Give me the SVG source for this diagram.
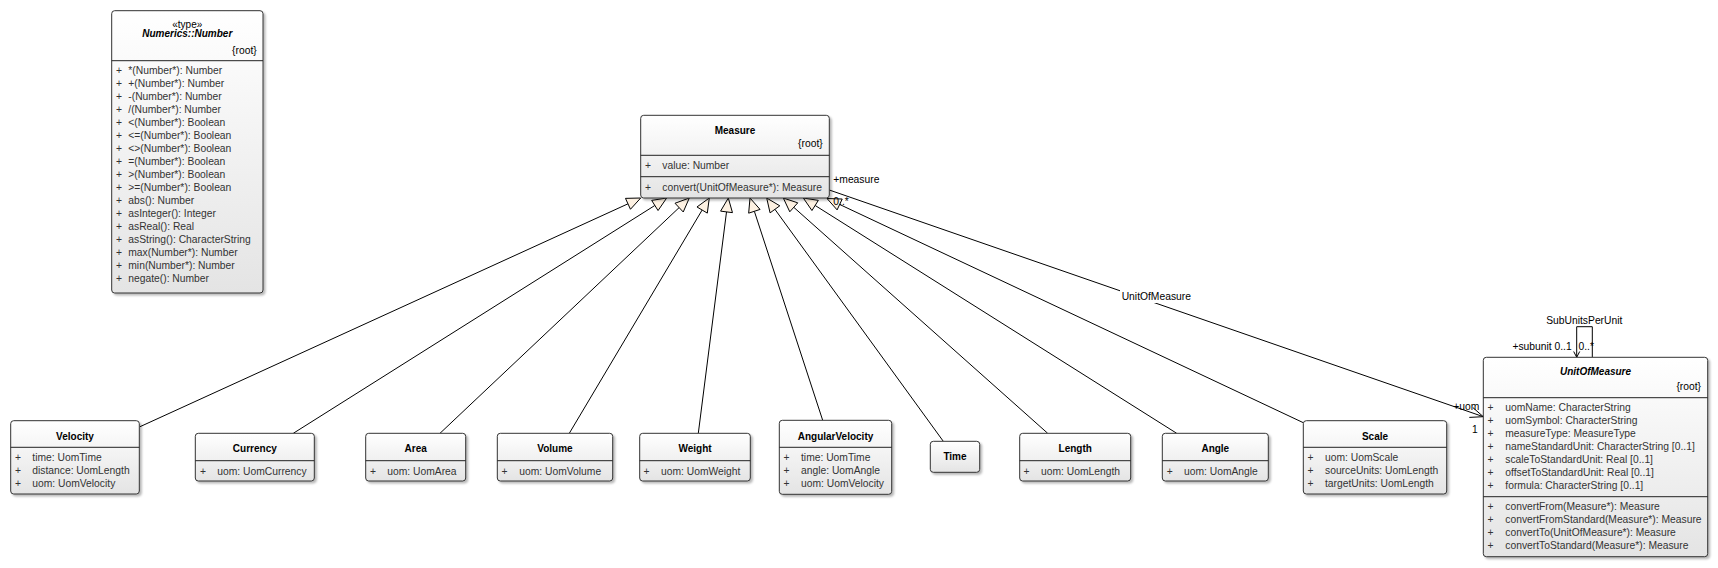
<svg xmlns="http://www.w3.org/2000/svg" width="1718" height="568" viewBox="0 0 1718 568">
<defs>
<linearGradient id="g" x1="0" y1="0" x2="0" y2="1">
<stop offset="0" stop-color="#ffffff"/>
<stop offset="1" stop-color="#e4e4e4"/>
</linearGradient>
<filter id="sh" x="-10%" y="-10%" width="130%" height="130%">
<feDropShadow dx="2" dy="2" stdDeviation="1.2" flood-color="#000" flood-opacity="0.28"/>
</filter>
</defs>
<style>
.box{fill:url(#g);stroke:#333;stroke-width:1;filter:url(#sh)}
.sep{stroke:#222;stroke-width:1}
text{font-family:"Liberation Sans",Arial,sans-serif;font-size:10.3px;fill:#333}
.t{font-weight:bold;font-size:10px;fill:#000;text-anchor:middle}
.ti{font-weight:bold;font-style:italic;font-size:10px;fill:#000;text-anchor:middle}
.c{text-anchor:middle;fill:#000}
.r{text-anchor:end;fill:#333}
.l{fill:#000}
.le{fill:#000;text-anchor:end}
.ln{fill:none;stroke:#000;stroke-width:1}
.tri{fill:#fdf1e2;stroke:#000;stroke-width:1}
</style>

<g id="connectors">
<line class="ln" x1="140" y1="426.7" x2="627.97" y2="203.82"/>
<polygon class="tri" points="640.7,198 625.48,198.36 630.46,209.28"/>
<line class="ln" x1="293.3" y1="433.3" x2="654.86" y2="205.46"/>
<polygon class="tri" points="666.7,198 651.66,200.38 658.06,210.54"/>
<line class="ln" x1="440" y1="433.3" x2="679.12" y2="207.61"/>
<polygon class="tri" points="689.3,198 675.0,203.25 683.24,211.97"/>
<line class="ln" x1="569.3" y1="433.3" x2="702.14" y2="210.03"/>
<polygon class="tri" points="709.3,198 696.98,206.96 707.3,213.1"/>
<line class="ln" x1="698.3" y1="433.3" x2="726.53" y2="211.89"/>
<polygon class="tri" points="728.3,198 720.58,211.13 732.48,212.65"/>
<line class="ln" x1="822.7" y1="420.3" x2="754.36" y2="211.3"/>
<polygon class="tri" points="750,198 748.66,213.17 760.06,209.43"/>
<line class="ln" x1="943.3" y1="441.3" x2="774.93" y2="209.33"/>
<polygon class="tri" points="766.7,198 770.07,212.86 779.79,205.8"/>
<line class="ln" x1="1047.7" y1="433.3" x2="793.76" y2="207.31"/>
<polygon class="tri" points="783.3,198 789.77,211.79 797.75,202.83"/>
<line class="ln" x1="1176.7" y1="433.3" x2="815.14" y2="205.46"/>
<polygon class="tri" points="803.3,198 811.94,210.54 818.34,200.38"/>
<line class="ln" x1="1303.3" y1="422.7" x2="839.67" y2="204.46"/>
<polygon class="tri" points="827,198.5 837.11,209.89 842.23,199.03"/>

<line class="ln" x1="829.3" y1="190" x2="1483.3" y2="416.7"/>
<polyline class="ln" points="1472.8,407.5 1483.3,416.7 1469.3,417.4"/>
<rect x="1120" y="290" width="73" height="13" fill="#fff"/>
<text class="l" x="1121.7" y="300">UnitOfMeasure</text>
<text class="l" x="833.3" y="182.5">+measure</text>
<text class="l" x="833.3" y="205">0..*</text>
<text class="l" x="1453.3" y="409.5">+uom</text>
<text class="l" x="1472" y="433">1</text>

<polyline class="ln" points="1592.3,357.3 1592.3,326.7 1576.7,326.7 1576.7,357.3"/>
<polyline class="ln" points="1573.7,351.5 1576.7,357.3 1579.7,351.5"/>
<text class="c" x="1584.3" y="323.5">SubUnitsPerUnit</text>
<text class="le" x="1571.7" y="350">+subunit 0..1</text>
<text class="l" x="1578.5" y="350">0..*</text>
</g>

<g id="Number">
<rect class="box" x="111.7" y="10.7" width="151.3" height="282.3" rx="3"/>
<text class="c" x="187.3" y="27.5" style="font-size:10px">«type»</text>
<text class="ti" x="187.3" y="37">Numerics::Number</text>
<text class="r" x="256.7" y="53.5" style="fill:#000">{root}</text>
<line class="sep" x1="111.7" y1="60.7" x2="263" y2="60.7"/>
<g>
<text x="116" y="74.2">+</text><text x="128.3" y="74.2">*(Number*): Number</text>
<text x="116" y="87.2">+</text><text x="128.3" y="87.2">+(Number*): Number</text>
<text x="116" y="100.2">+</text><text x="128.3" y="100.2">-(Number*): Number</text>
<text x="116" y="113.2">+</text><text x="128.3" y="113.2">/(Number*): Number</text>
<text x="116" y="126.2">+</text><text x="128.3" y="126.2">&lt;(Number*): Boolean</text>
<text x="116" y="139.2">+</text><text x="128.3" y="139.2">&lt;=(Number*): Boolean</text>
<text x="116" y="152.2">+</text><text x="128.3" y="152.2">&lt;&gt;(Number*): Boolean</text>
<text x="116" y="165.2">+</text><text x="128.3" y="165.2">=(Number*): Boolean</text>
<text x="116" y="178.2">+</text><text x="128.3" y="178.2">&gt;(Number*): Boolean</text>
<text x="116" y="191.2">+</text><text x="128.3" y="191.2">&gt;=(Number*): Boolean</text>
<text x="116" y="204.2">+</text><text x="128.3" y="204.2">abs(): Number</text>
<text x="116" y="217.2">+</text><text x="128.3" y="217.2">asInteger(): Integer</text>
<text x="116" y="230.2">+</text><text x="128.3" y="230.2">asReal(): Real</text>
<text x="116" y="243.2">+</text><text x="128.3" y="243.2">asString(): CharacterString</text>
<text x="116" y="256.2">+</text><text x="128.3" y="256.2">max(Number*): Number</text>
<text x="116" y="269.2">+</text><text x="128.3" y="269.2">min(Number*): Number</text>
<text x="116" y="282.2">+</text><text x="128.3" y="282.2">negate(): Number</text>
</g>
</g>

<g id="Measure">
<rect class="box" x="640.7" y="115.3" width="188.6" height="82.7" rx="3"/>
<text class="t" x="735" y="134">Measure</text>
<text class="r" x="822.7" y="147" style="fill:#000">{root}</text>
<line class="sep" x1="640.7" y1="155.3" x2="829.3" y2="155.3"/>
<text x="645" y="169">+</text><text x="662.3" y="169">value: Number</text>
<line class="sep" x1="640.7" y1="176.7" x2="829.3" y2="176.7"/>
<text x="645" y="190.5">+</text><text x="662.3" y="190.5">convert(UnitOfMeasure*): Measure</text>
</g>

<g id="Velocity">
<rect class="box" x="10.7" y="420.7" width="128.6" height="73.3" rx="3"/>
<text class="t" x="75" y="439.5">Velocity</text>
<line class="sep" x1="10.7" y1="447.3" x2="139.3" y2="447.3"/>
<text x="15" y="461.2">+</text><text x="32.3" y="461.2">time: UomTime</text>
<text x="15" y="474.2">+</text><text x="32.3" y="474.2">distance: UomLength</text>
<text x="15" y="487.2">+</text><text x="32.3" y="487.2">uom: UomVelocity</text>
</g>

<g id="Currency">
<rect class="box" x="195.3" y="433.3" width="119" height="47.7" rx="3"/>
<text class="t" x="254.8" y="452.2">Currency</text>
<line class="sep" x1="195.3" y1="460.7" x2="314.3" y2="460.7"/>
<text x="200" y="474.5">+</text><text x="217.3" y="474.5">uom: UomCurrency</text>
</g>

<g id="Area">
<rect class="box" x="365.7" y="433.3" width="100" height="47.7" rx="3"/>
<text class="t" x="415.7" y="452.2">Area</text>
<line class="sep" x1="365.7" y1="460.7" x2="465.7" y2="460.7"/>
<text x="370" y="474.5">+</text><text x="387.3" y="474.5">uom: UomArea</text>
</g>

<g id="Volume">
<rect class="box" x="497.3" y="433.3" width="115.4" height="47.7" rx="3"/>
<text class="t" x="555" y="452.2">Volume</text>
<line class="sep" x1="497.3" y1="460.7" x2="612.7" y2="460.7"/>
<text x="501.5" y="474.5">+</text><text x="519.3" y="474.5">uom: UomVolume</text>
</g>

<g id="Weight">
<rect class="box" x="639.7" y="433.3" width="110.6" height="47.7" rx="3"/>
<text class="t" x="695" y="452.2">Weight</text>
<line class="sep" x1="639.7" y1="460.7" x2="750.3" y2="460.7"/>
<text x="643.5" y="474.5">+</text><text x="661" y="474.5">uom: UomWeight</text>
</g>

<g id="AngularVelocity">
<rect class="box" x="779.3" y="420.3" width="112.4" height="74" rx="3"/>
<text class="t" x="835.5" y="439.5">AngularVelocity</text>
<line class="sep" x1="779.3" y1="447.3" x2="891.7" y2="447.3"/>
<text x="783.5" y="461.2">+</text><text x="801" y="461.2">time: UomTime</text>
<text x="783.5" y="474.2">+</text><text x="801" y="474.2">angle: UomAngle</text>
<text x="783.5" y="487.2">+</text><text x="801" y="487.2">uom: UomVelocity</text>
</g>

<g id="Time">
<rect class="box" x="930.3" y="441.3" width="49.4" height="31" rx="3"/>
<text class="t" x="955" y="460">Time</text>
</g>

<g id="Length">
<rect class="box" x="1019.7" y="433.3" width="111" height="47.7" rx="3"/>
<text class="t" x="1075.2" y="452.2">Length</text>
<line class="sep" x1="1019.7" y1="460.7" x2="1130.7" y2="460.7"/>
<text x="1023.5" y="474.5">+</text><text x="1041" y="474.5">uom: UomLength</text>
</g>

<g id="Angle">
<rect class="box" x="1162.3" y="433.3" width="106" height="47.7" rx="3"/>
<text class="t" x="1215.3" y="452.2">Angle</text>
<line class="sep" x1="1162.3" y1="460.7" x2="1268.3" y2="460.7"/>
<text x="1166.7" y="474.5">+</text><text x="1184" y="474.5">uom: UomAngle</text>
</g>

<g id="Scale">
<rect class="box" x="1303.3" y="420.7" width="143.4" height="73.3" rx="3"/>
<text class="t" x="1375" y="439.5">Scale</text>
<line class="sep" x1="1303.3" y1="447.3" x2="1446.7" y2="447.3"/>
<text x="1307.5" y="461.2">+</text><text x="1325" y="461.2">uom: UomScale</text>
<text x="1307.5" y="474.2">+</text><text x="1325" y="474.2">sourceUnits: UomLength</text>
<text x="1307.5" y="487.2">+</text><text x="1325" y="487.2">targetUnits: UomLength</text>
</g>

<g id="UnitOfMeasure">
<rect class="box" x="1483.3" y="357.3" width="224.4" height="199.4" rx="3"/>
<text class="ti" x="1595.5" y="375">UnitOfMeasure</text>
<text class="r" x="1701" y="390" style="fill:#000">{root}</text>
<line class="sep" x1="1483.3" y1="397.7" x2="1707.7" y2="397.7"/>
<text x="1487.5" y="411.2">+</text><text x="1505.3" y="411.2">uomName: CharacterString</text>
<text x="1487.5" y="424.1">+</text><text x="1505.3" y="424.1">uomSymbol: CharacterString</text>
<text x="1487.5" y="437.1">+</text><text x="1505.3" y="437.1">measureType: MeasureType</text>
<text x="1487.5" y="450">+</text><text x="1505.3" y="450">nameStandardUnit: CharacterString [0..1]</text>
<text x="1487.5" y="463">+</text><text x="1505.3" y="463">scaleToStandardUnit: Real [0..1]</text>
<text x="1487.5" y="475.9">+</text><text x="1505.3" y="475.9">offsetToStandardUnit: Real [0..1]</text>
<text x="1487.5" y="488.8">+</text><text x="1505.3" y="488.8">formula: CharacterString [0..1]</text>
<line class="sep" x1="1483.3" y1="496.7" x2="1707.7" y2="496.7"/>
<text x="1487.5" y="510.2">+</text><text x="1505.3" y="510.2">convertFrom(Measure*): Measure</text>
<text x="1487.5" y="523.2">+</text><text x="1505.3" y="523.2">convertFromStandard(Measure*): Measure</text>
<text x="1487.5" y="536.2">+</text><text x="1505.3" y="536.2">convertTo(UnitOfMeasure*): Measure</text>
<text x="1487.5" y="549.2">+</text><text x="1505.3" y="549.2">convertToStandard(Measure*): Measure</text>
</g>
</svg>
